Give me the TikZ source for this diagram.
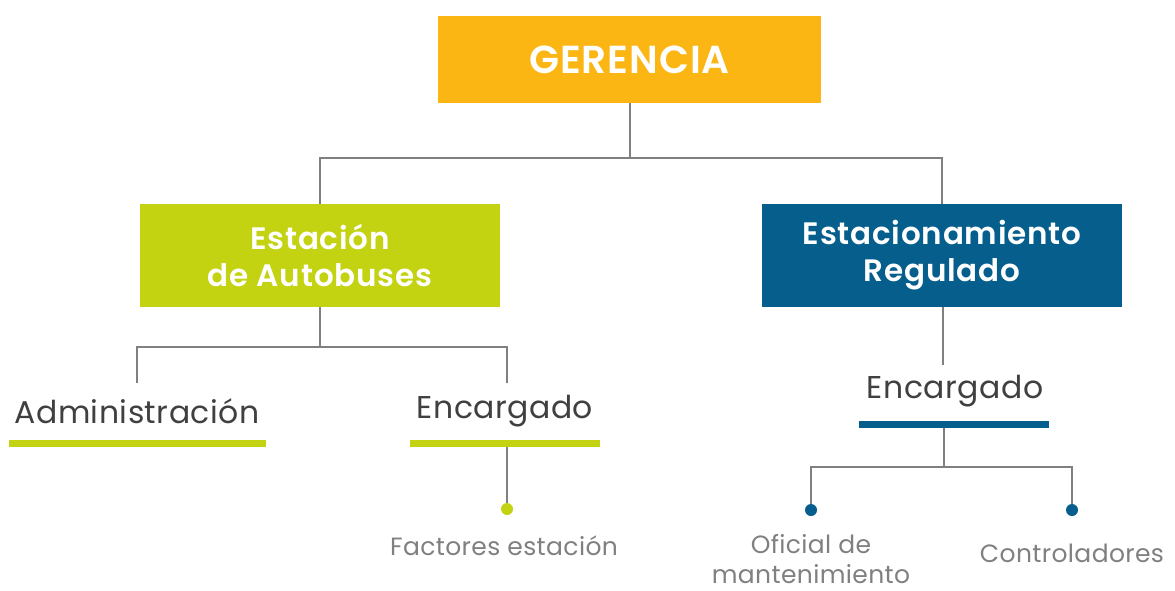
\documentclass[tikz,border=0pt]{standalone}
\usepackage{fontspec}
\setmainfont{Poppins}
\newfontfamily\semib{Poppins SemiBold}[LetterSpace=2.5]
\newfontfamily\regsp{Poppins}[LetterSpace=1.5]
\definecolor{amber}{HTML}{FBB614}
\definecolor{lime}{HTML}{C3D312}
\definecolor{navy}{HTML}{055E8C}
\definecolor{conn}{HTML}{808080}
\definecolor{dark}{HTML}{404040}
\definecolor{soft}{HTML}{808080}
\begin{document}
\begin{tikzpicture}[x=1pt,y=-1pt,
  box/.style={rectangle, inner sep=0pt, align=center, text=white, font=\fontsize{31}{37}\selectfont\semib},
  conn/.style={draw=conn, line width=2.6pt},
  lbl/.style={inner sep=0pt, text=dark, font=\fontsize{31.5}{34}\selectfont\regsp},
  sub/.style={inner sep=0pt, text=soft, align=center, font=\fontsize{25}{30}\selectfont\regsp},
  bar/.style={rectangle, inner sep=0pt, minimum height=7pt},
  dot/.style={circle, inner sep=0pt, minimum size=12pt}]
\useasboundingbox (0,0) rectangle (1175,590);
% boxes
\node[box, fill=amber, minimum width=383pt, minimum height=87pt, font=\fontsize{39}{40}\selectfont\semib] (ger) at (629.5,59.5) {GERENCIA};
\node[box, fill=lime, minimum width=360pt, minimum height=103pt] (est) at (320,255.5) {Estación\\de Autobuses};
\node[box, fill=navy, minimum width=360pt, minimum height=103pt] (reg) at (942,255.5) {Estacionamiento\\Regulado};
% level 1 connectors
\coordinate (j1) at (630,158);
\draw[conn] (ger.south -| j1) -- (j1);
\draw[conn] (est.north) |- (j1) -| (reg.north);
% left branch
\coordinate (j2) at (320,347);
\coordinate (adtop) at (137,383);
\coordinate (entop) at (507,383);
\draw[conn] (est.south) -- (j2);
\draw[conn] (adtop) |- (j2) -| (entop);
\node[lbl] (adm) at (137,411) {Administración};
\node[bar, fill=lime, minimum width=257pt] (admbar) at (137.5,443.5) {};
\node[lbl] (enc1) at (505,411) {Encargado};
\node[bar, fill=lime, minimum width=190pt] (enc1bar) at (505,443.5) {};
\node[dot, fill=lime] (d1) at (507,509) {};
\draw[conn] (enc1bar.south -| d1) -- (d1);
\node[sub] (fac) at (504,546) {Factores estación};
% right branch
\coordinate (rtop) at (943,365);
\draw[conn] (reg.south -| rtop) -- (rtop);
\node[lbl] (enc2) at (955,391) {Encargado};
\node[bar, fill=navy, minimum width=190pt] (enc2bar) at (954,424.5) {};
\coordinate (j3) at (944,467);
\draw[conn] (enc2bar.south -| j3) -- (j3);
\node[dot, fill=navy] (d2) at (811,510) {};
\node[dot, fill=navy] (d3) at (1072,510) {};
\draw[conn] (d2) |- (j3) -| (d3);
\node[sub] (ofi) at (811,559) {Oficial de\\mantenimiento};
\node[sub] (con) at (1072,553) {Controladores};
\end{tikzpicture}
\end{document}
